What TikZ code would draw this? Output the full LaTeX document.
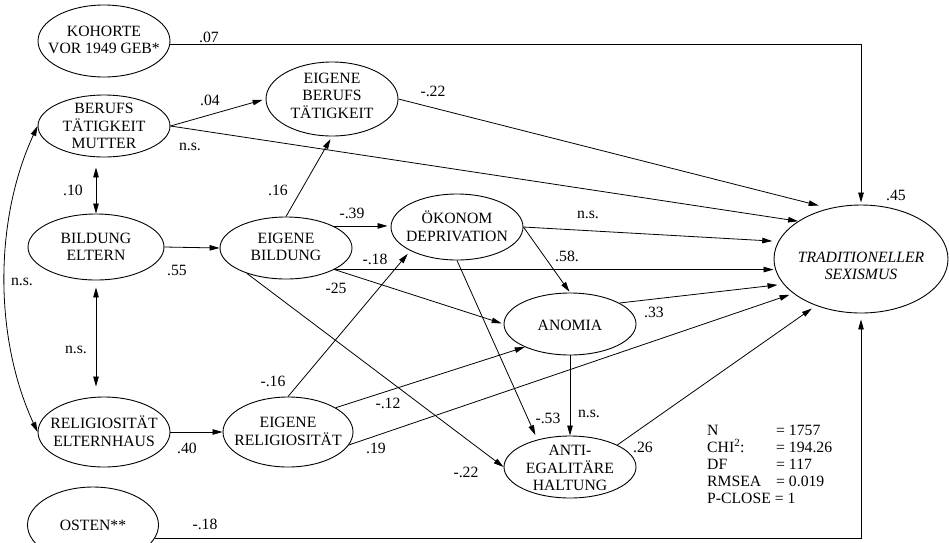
\documentclass[tikz,border=0pt]{standalone}
\usepackage{fontspec}
\setmainfont{Liberation Serif}
\usetikzlibrary{shapes.geometric,arrows.meta}
\newcommand\vc[2][0pt]{\raisebox{\dimexpr-5.3pt-#1\relax}[0pt][0pt]{\makebox[0pt]{\begin{tabular}{@{}c@{}}#2\end{tabular}}}}
\begin{document}
\begin{tikzpicture}[x=1pt,y=-1pt,
  every node/.style={font=\fontsize{15.7}{17.3}\selectfont, inner sep=0pt},
  var/.style={ellipse, draw, line width=0.9pt},
  arr/.style={line width=0.8pt, -{Triangle[length=10pt,width=5.5pt]}},
  dbl/.style={line width=0.8pt, {Triangle[length=10pt,width=5.5pt]}-{Triangle[length=10pt,width=5.5pt]}},
  stat/.style={anchor=base west}
]
\fill[white] (0,0) rectangle (949,542);
\useasboundingbox (0,0) rectangle (949,542);

% variables
\node[var, minimum width=132pt, minimum height=72pt] (koh) at (104,41) {\vc[-1pt]{KOHORTE\\VOR 1949 GEB*}};
\node[var, minimum width=132pt, minimum height=62pt] (mut) at (104,126) {\vc{BERUFS\\TÄTIGKEIT\\MUTTER}};
\node[var, minimum width=136pt, minimum height=66pt] (bel) at (96,247) {\vc{BILDUNG\\ELTERN}};
\node[var, minimum width=132pt, minimum height=74pt] (ebt) at (332,99) {\vc[-3pt]{EIGENE\\BERUFS\\TÄTIGKEIT}};
\node[var, minimum width=132pt, minimum height=62pt] (ebi) at (286,248) {\vc[-1pt]{EIGENE\\BILDUNG}};
\node[var, minimum width=132pt, minimum height=66pt] (oek) at (457,227) {\vc{ÖKONOM\\DEPRIVATION}};
\node[var, minimum width=132pt, minimum height=62pt] (ano) at (570,324) {\vc[1pt]{ANOMIA}};
\node[var, minimum width=132pt, minimum height=62pt] (ant) at (570,467) {\vc[1pt]{ANTI-\\EGALITÄRE\\HALTUNG}};
\node[var, minimum width=174pt, minimum height=108pt, font=\fontsize{15.7}{17.3}\selectfont\itshape] (sex) at (861,259) {\vc[7pt]{TRADITIONELLER\\SEXISMUS}};
\node[var, minimum width=132pt, minimum height=70pt] (rel) at (104,432) {\vc{RELIGIOSITÄT\\ELTERNHAUS}};
\node[var, minimum width=130pt, minimum height=70pt] (ere) at (288,432) {\vc[-1pt]{EIGENE\\RELIGIOSITÄT}};
\node[var, minimum width=131pt, minimum height=76pt] (ost) at (93,525) {\vc{OSTEN**}};

% connectors
\draw[arr, shorten >=2pt] (koh.-3) -| (sex.north);
\draw[arr, shorten >=3pt] (mut.east) -- (ebt.west);
\draw[arr] (mut.east) -- (sex.149);
\draw[arr, shorten >=11pt] (ebt.east) -- (sex.122);
\draw[dbl, shorten <=10pt] (bel.north |- mut.south) -- (bel.north);
\draw[dbl, shorten <=7pt, shorten >=10pt] (bel.south) -- (bel.south |- rel.north);
\draw[dbl] (mut.west) .. controls (-6,220) and (-6,338) .. (rel.west);
\draw[arr] (bel.east) -- (ebi.west);
\draw[arr, shorten >=3pt] (ebi.north) -- (ebt.south);
\draw[arr, shorten >=3pt] (ebi.25) -- (ebi.25 -| oek.west);
\draw[arr] (ebi.-24) -- (ebi.-24 -| sex.west);
\draw[arr, shorten >=2pt] (ebi.-24) -- (ano.west);
\draw[arr] (ebi.213) -- (ant.west);
\draw[arr, shorten >=4pt] (ere.north) -- (oek.207);
\draw[arr] (ere.27) -- (ano.207);
\draw[arr, shorten >=4pt] (ere.-12) -- (sex.207);
\draw[arr, shorten >=6pt] (oek.east) -- (sex.168);
\draw[arr, shorten >=1pt] (oek.east) -- (ano.north);
\draw[arr, shorten >=5pt] (oek.south) -- (ant.140);
\draw[arr] (ano.south) -- (ant.north);
\draw[arr, shorten >=6pt] (ano.23) -- (sex.198);
\draw[arr, shorten >=5pt] (ant.25) -- (sex.226);
\draw[arr] (rel.east) -- (ere.west);
\draw[arr, shorten >=6pt] (ost.-12) -| (sex.south);

% coefficients
\node (l1) at (209,37) {.07};
\node (l2) at (210,100) {.04};
\node (l3) at (190,147) {n.s.};
\node (l4) at (433,91) {-.22};
\node (l5) at (73,190) {.10};
\node (l6) at (278,190) {.16};
\node (l7) at (352,213) {-.39};
\node (l8) at (177,270) {.55};
\node (l9) at (22,282) {n.s.};
\node (l10) at (375,259) {-.18};
\node (l11) at (567,256) {.58.};
\node (l12) at (588,215) {n.s.};
\node (l13) at (336,288) {-25};
\node (l14) at (76,350) {n.s.};
\node (l15) at (273,381) {-.16};
\node (l16) at (388,403) {-.12};
\node (l17) at (187,448) {.40};
\node (l18) at (376,448) {.19};
\node (l19) at (466,472) {-.22};
\node (l20) at (205,524) {-.18};
\node (l21) at (654,312) {.33};
\node (l22) at (548,418) {-.53};
\node (l23) at (589,414) {n.s.};
\node (l24) at (643,447) {.26};
\node (l25) at (896,195) {.45};

% fit statistics
\node[stat] (s1) at (707,435) {\makebox[69pt][l]{N}= 1757};
\node[stat] (s2) at (707,452.2) {\makebox[69pt][l]{CHI\textsuperscript{2}:}= 194.26};
\node[stat] (s3) at (707,469.4) {\makebox[69pt][l]{DF}= 117};
\node[stat] (s4) at (707,486.6) {\makebox[69pt][l]{RMSEA}= 0.019};
\node[stat] (s5) at (707,503.8) {P-CLOSE = 1};
\end{tikzpicture}
\end{document}
